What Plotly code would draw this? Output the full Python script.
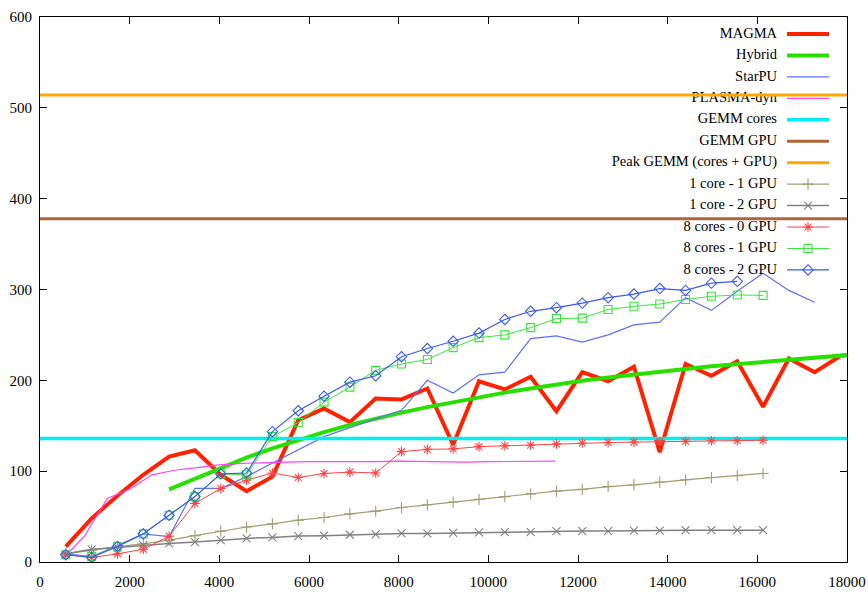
import plotly.graph_objects as go

# Matrix sizes (N) for the benchmark runs
sizes = [576, 1152, 1728, 2304, 2880, 3456, 4032, 4608, 5184, 5760, 6336, 6912,
         7488, 8064, 8640, 9216, 9792, 10368, 10944, 11520, 12096, 12672, 13248,
         13824, 14400, 14976, 15552, 16128, 16704, 17280, 17856, 18432]
plasma_sizes = [500, 1000, 1500, 2000, 2500, 3000, 3500, 4000, 4500, 5000, 5500,
                6000, 6500, 7000, 7500, 8000, 8500, 9000, 9500, 10000, 10500,
                11000, 11500]

# Gflop/s
magma = [17, 48, 73, 96, 116, 123, 96, 78, 94, 156, 169, 154, 180, 179, 191, 129,
         199, 190, 204, 166, 209, 199, 215, 121, 218, 205, 221, 171, 224, 209, 227, 231]
hybrid = [80, 92, 104, 115, 125, 134.5, 143, 151, 158, 164.5, 170.5, 176, 181.5,
          186.5, 191, 195.5, 199.5, 203, 206.5, 209.5, 212.5, 215.5, 218, 220.5,
          223, 225.5, 227.5, 229.5]
starpu = [9, 6, 18, 31, 28, 81, 81, 94, 109, 123.5, 138, 148, 157.5, 167, 200, 186,
          206, 209, 246, 249, 242, 250, 261, 264, 291, 277, 298, 318, 299, 286]
plasma_dyn = [3, 29, 70, 80, 96, 101, 104, 107, 108.5, 109.5, 110, 110.5, 110.5,
              110, 110.5, 111, 110.5, 110, 110, 110.5, 110.5, 110.5, 111]
gemm_cores = 136
gemm_gpu = 378
peak_gemm = 514
c1_g1 = [9, 13, 17, 20, 24, 29, 34, 38.5, 42, 46, 49, 53, 56, 60, 63, 66, 69, 72,
         75, 78, 80, 83, 85, 88, 90.5, 93, 95, 97.5]
c1_g2 = [9, 14, 16, 18.5, 20.5, 22, 24, 26, 27, 28.5, 29, 30, 30.5, 31.5, 31.5, 32,
         32.5, 33, 33, 34, 34, 34, 34.5, 34.5, 35, 35, 35, 35]
c8_g0 = [8, 5, 9, 14, 28.5, 64.5, 81, 90, 98, 93, 97.5, 99, 98, 121.5, 124, 124.5,
         127, 128, 128.5, 130, 131, 131.5, 132, 132.5, 133, 133.5, 133.5, 134]
c8_g1 = [8, 6, 17, 31, 51.5, 72, 97, 96, 138, 153.5, 176, 192.5, 211, 218, 223, 236,
         247, 250, 258, 268, 268.5, 278, 281.5, 284, 289, 292.5, 294, 293.5]
c8_g2 = [8, 5, 17, 31, 51.5, 72, 97, 98, 143.5, 166.5, 182.5, 198, 205, 226, 235,
         243, 252, 267, 276, 280, 285, 291, 295, 301, 299, 307, 309]

X_RANGE = [0, 18000]
Y_RANGE = [0, 600]
FONT = "Liberation Serif"

# (label, x, y, line colour, line width, marker symbol)
series = [
    ("MAGMA", sizes[:len(magma)], magma, "#ff2200", 4, None),
    ("Hybrid", sizes[4:4 + len(hybrid)], hybrid, "#28e000", 4, None),
    ("StarPU", sizes[:len(starpu)], starpu, "#5c70ff", 1.2, None),
    ("PLASMA-dyn", plasma_sizes, plasma_dyn, "#ff44ff", 1.2, None),
    ("GEMM cores", X_RANGE, [gemm_cores] * 2, "#00f0f0", 3.5, None),
    ("GEMM GPU", X_RANGE, [gemm_gpu] * 2, "#b0643a", 3, None),
    ("Peak GEMM (cores + GPU)", X_RANGE, [peak_gemm] * 2, "#ffa800", 3, None),
    ("1 core - 1 GPU", sizes[:len(c1_g1)], c1_g1, "#a09e72", 1.2, "cross-thin-open"),
    ("1 core - 2 GPU", sizes[:len(c1_g2)], c1_g2, "#808080", 1.5, "x-thin-open"),
    ("8 cores - 0 GPU", sizes[:len(c8_g0)], c8_g0, "#ff4444", 1, "asterisk-open"),
    ("8 cores - 1 GPU", sizes[:len(c8_g1)], c8_g1, "#38e838", 1, "square-open"),
    ("8 cores - 2 GPU", sizes[:len(c8_g2)], c8_g2, "#3c5af0", 1.2, "diamond-open"),
]

# Key layout (fractions of the plotting area), gnuplot style: text then sample
KEY_TEXT_X = 0.9133
KEY_SAMPLE_X = (0.9257, 0.9777)
KEY_MARK_X = 0.9517
KEY_TOP = 0.9688
KEY_STEP = 0.03936


def fx(f):
    return X_RANGE[0] + f * (X_RANGE[1] - X_RANGE[0])


def fy(f):
    return Y_RANGE[0] + f * (Y_RANGE[1] - Y_RANGE[0])


fig = go.Figure()
for i, (name, xs, ys, color, width, symbol) in enumerate(series):
    mode = "lines+markers" if symbol else "lines"
    marker = dict(symbol=symbol, size=8, color=color,
                  line=dict(color=color, width=1.1)) if symbol else None
    fig.add_trace(go.Scatter(x=xs, y=ys, mode=mode, name=name,
                             line=dict(color=color, width=width),
                             marker=marker, showlegend=False))
    ky = fy(KEY_TOP - i * KEY_STEP)
    fig.add_trace(go.Scatter(x=[fx(KEY_TEXT_X)], y=[ky], mode="text", text=[name],
                             textposition="middle left",
                             textfont=dict(family=FONT, size=14.5, color="black"),
                             showlegend=False, hoverinfo="skip"))
    fig.add_trace(go.Scatter(x=[fx(KEY_SAMPLE_X[0]), fx(KEY_SAMPLE_X[1])], y=[ky, ky],
                             mode="lines", line=dict(color=color, width=width),
                             showlegend=False, hoverinfo="skip"))
    if symbol:
        fig.add_trace(go.Scatter(x=[fx(KEY_MARK_X)], y=[ky], mode="markers",
                                 marker=marker, showlegend=False, hoverinfo="skip"))

axis_common = dict(showline=True, linecolor="black", linewidth=1, mirror="allticks",
                   ticks="inside", ticklen=7, tickcolor="black", showgrid=False,
                   zeroline=False, automargin=False,
                   tickfont=dict(family=FONT, size=15, color="black"))
fig.update_xaxes(range=X_RANGE, dtick=2000, tick0=0, tickformat="d",
                 ticklabelstandoff=6, **axis_common)
fig.update_yaxes(range=Y_RANGE, dtick=100, tick0=0, tickformat="d",
                 ticklabelstandoff=4, **axis_common)
fig.update_layout(width=868, height=595, plot_bgcolor="white", paper_bgcolor="white",
                  margin=dict(l=40, r=21, t=17, b=33), showlegend=False,
                  font=dict(family=FONT, color="black"))
fig.write_html("out.html")
